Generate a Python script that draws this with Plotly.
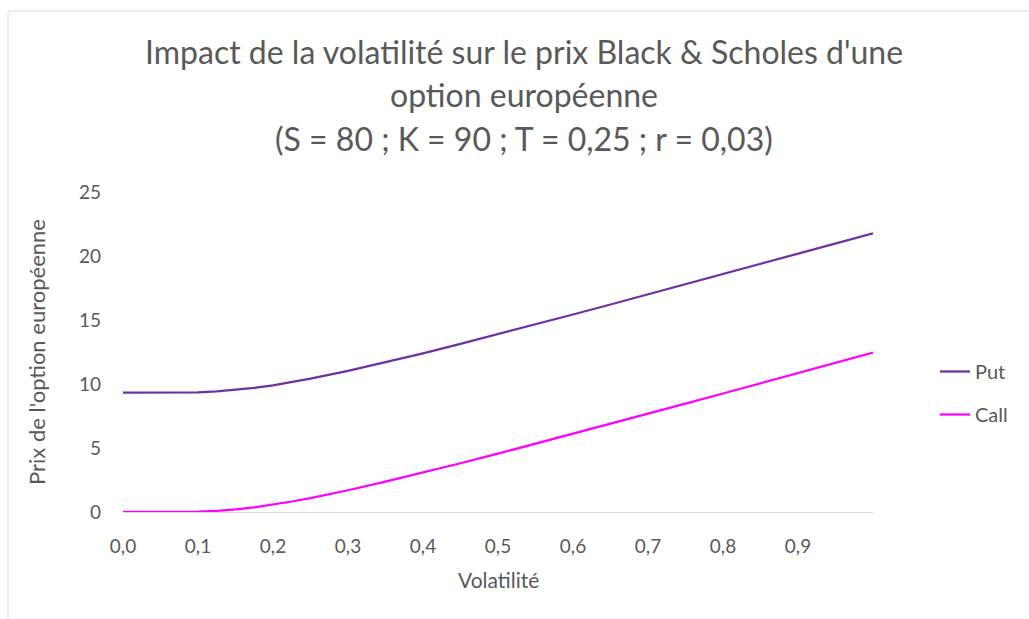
import plotly.graph_objects as go

# Volatility grid and Black & Scholes prices (S = 80, K = 90, T = 0.25, r = 0.03)
volatilite = [0.00, 0.05, 0.10, 0.125, 0.15, 0.175, 0.20, 0.225, 0.25, 0.30, 0.35,
              0.40, 0.45, 0.50, 0.55, 0.60, 0.65, 0.70, 0.75, 0.80, 0.85,
              0.90, 0.95, 1.00]
prix_put = [9.33, 9.33, 9.35, 9.42, 9.53, 9.69, 9.90, 10.15, 10.42, 11.03, 11.70,
            12.40, 13.14, 13.89, 14.65, 15.43, 16.21, 17.00, 17.79, 18.58, 19.38,
            20.18, 20.98, 21.77]
prix_call = [0.00, 0.00, 0.02, 0.09, 0.20, 0.37, 0.58, 0.82, 1.09, 1.70, 2.37,
             3.08, 3.81, 4.56, 5.33, 6.10, 6.88, 7.67, 8.46, 9.26, 10.05,
             10.85, 11.65, 12.45]

x_ticks = [0.0, 0.1, 0.2, 0.3, 0.4, 0.5, 0.6, 0.7, 0.8, 0.9]
x_ticktext = ["0,0", "0,1", "0,2", "0,3", "0,4", "0,5", "0,6", "0,7", "0,8", "0,9"]
y_ticks = [0, 5, 10, 15, 20, 25]

titre = ["Impact de la volatilité sur le prix Black & Scholes d'une",
         "option européenne",
         "(S = 80 ; K = 90 ; T = 0,25 ; r = 0,03)"]

GRIS = "#595959"
FONT = "Lato"

W, H = 1029, 619
L, R, T, B = 123, 156, 192, 107
PW, PH = W - L - R, H - T - B


def px(xp):
    return (xp - L) / PW


def py(yp):
    return (H - B - yp) / PH


fig = go.Figure()
fig.add_trace(go.Scatter(x=volatilite, y=prix_put, mode="lines", name="Put",
                         legendgroup="put",
                         line=dict(color="#7030A0", width=2.25)))
fig.add_trace(go.Scatter(x=volatilite, y=prix_call, mode="lines", name="Call",
                         legendgroup="call",
                         line=dict(color="#FF00FF", width=2.25)))

annotations = []
for txt, yc in zip(titre, [51, 95, 138]):
    annotations.append(dict(text=txt, xref="paper", yref="paper",
                            x=px(524), y=py(yc), xanchor="center", yanchor="middle",
                            showarrow=False, font=dict(family=FONT, size=32, color=GRIS)))
annotations.append(dict(text="Volatilité", xref="paper", yref="paper",
                        x=0.5, y=py(579), xanchor="center", yanchor="middle",
                        showarrow=False, font=dict(family=FONT, size=21, color=GRIS)))
annotations.append(dict(text="Prix de l'option européenne", xref="paper", yref="paper",
                        x=px(36), y=0.5, xanchor="center", yanchor="middle", textangle=-90,
                        showarrow=False, font=dict(family=FONT, size=22, color=GRIS)))

fig.update_layout(
    width=W, height=H,
    margin=dict(l=L, r=R, t=T, b=B, pad=0),
    paper_bgcolor="white", plot_bgcolor="white",
    font=dict(family=FONT, color=GRIS, size=19),
    showlegend=True,
    legend=dict(x=px(935), y=py(352), xanchor="left", yanchor="top",
                font=dict(family=FONT, size=20, color=GRIS),
                tracegroupgap=14, bgcolor="rgba(0,0,0,0)", traceorder="grouped"),
    annotations=annotations,
    shapes=[dict(type="rect", xref="paper", yref="paper",
                 x0=px(8), x1=px(1045), y0=py(640), y1=py(11),
                 line=dict(color="#d9d9d9", width=1), layer="below")],
)

fig.update_xaxes(range=[0, 1], tickvals=x_ticks, ticktext=x_ticktext,
                 showgrid=False, zeroline=False, showline=True,
                 linecolor="#d9d9d9", linewidth=1, ticks="",
                 ticklabelstandoff=17, tickfont=dict(family=FONT, size=19, color=GRIS))
fig.update_yaxes(range=[0, 25], tickvals=y_ticks,
                 showgrid=False, zeroline=False, showline=False, ticks="",
                 ticklabelstandoff=21, tickfont=dict(family=FONT, size=19, color=GRIS))

fig.write_html("out.html")
